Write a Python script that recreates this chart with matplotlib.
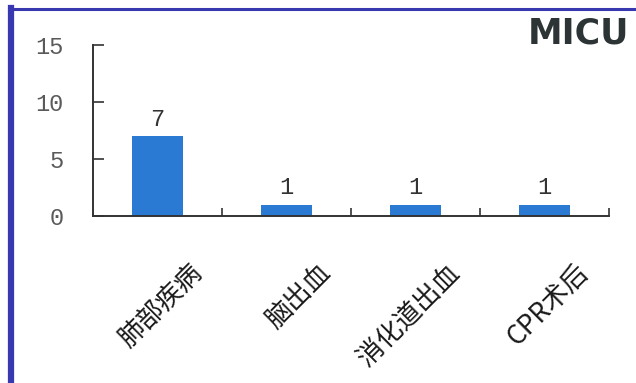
import matplotlib.pyplot as plt
from matplotlib.lines import Line2D

plt.rcParams['font.family'] = ['Noto Sans CJK SC', 'DejaVu Sans']

# data
categories = ["肺部疾病", "脑出血", "消化道出血", "CPR术后"]
counts = [7, 1, 1, 1]
yticks = [0, 5, 10, 15]

fig = plt.figure(figsize=(6.36, 3.83), dpi=100)
ax = fig.add_axes([93 / 636, 1 - 216 / 383, 516 / 636, 171 / 383])

x = list(range(len(categories)))
ax.bar(x, counts, width=0.39, color="#2a7ad4", zorder=2)

ax.set_xlim(-0.5, len(categories) - 0.5)
ax.set_ylim(0, 15)

# spines
for s in ["top", "right"]:
    ax.spines[s].set_visible(False)
for s in ["left", "bottom"]:
    ax.spines[s].set_color("#333333")
    ax.spines[s].set_linewidth(1.4)

# y ticks
ax.set_yticks(yticks)
ax.set_yticklabels([str(v) for v in yticks], family="Liberation Mono",
                   fontsize=17, color="#5a5a5a")
ax.tick_params(axis="y", direction="in", length=8, width=1.2,
               color="#333333", pad=21)

# x ticks at category boundaries
ax.set_xticks([i + 0.5 for i in x], minor=True)
ax.set_xticks(x)
ax.set_xticklabels([])
ax.tick_params(axis="x", which="major", length=0)
ax.tick_params(axis="x", which="minor", direction="in", length=6,
               width=1.2, color="#333333")

# category labels rotated
for i, lab in zip(x, categories):
    ax.annotate(lab, xy=(i, 0), xytext=(22, -31), textcoords="offset points",
                rotation=45, rotation_mode="anchor", ha="right", va="top",
                fontsize=19, color="#1a1a1a")

# value labels
for i, v in zip(x, counts):
    ax.annotate(str(v), xy=(i, v), xytext=(0, 4), textcoords="offset points",
                ha="center", va="bottom", family="Liberation Mono",
                fontsize=17, color="#333333")

# title in corner
fig.text(0.99, 1 - 34 / 383, "MICU", ha="right", va="center",
         fontsize=25, fontweight="bold", color="#2d3436",
         family="DejaVu Sans")

# frame lines at left and top
fig.add_artist(Line2D([11 / 636, 11 / 636], [0, 1 - 8 / 383],
                      color="#3838b0", linewidth=4.5))
fig.add_artist(Line2D([9 / 636, 1], [1 - 8.5 / 383, 1 - 8.5 / 383],
                      color="#3838b0", linewidth=2.2))

fig.savefig("out.png", dpi=100)
